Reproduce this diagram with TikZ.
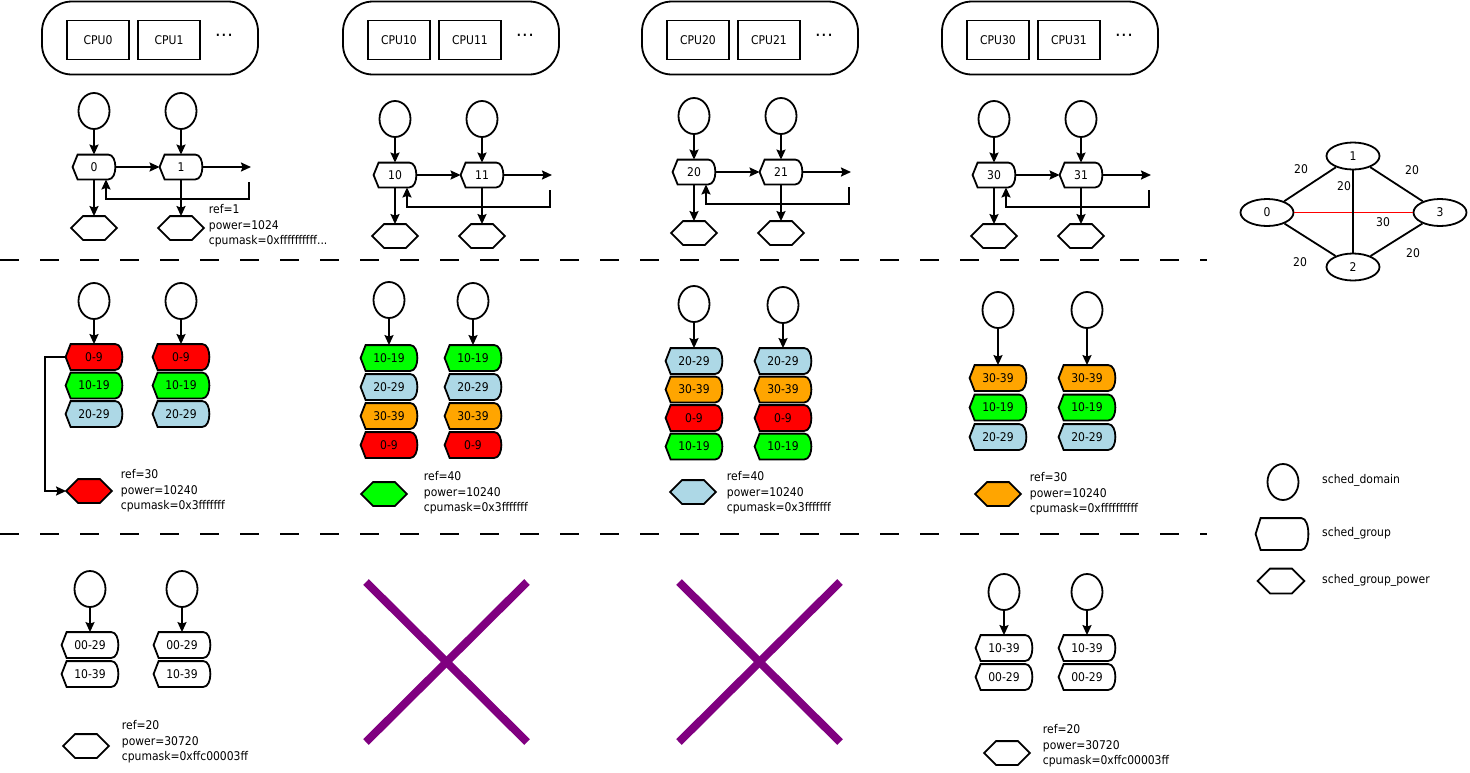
\documentclass[tikz,border=0pt]{standalone}
\usepackage{fontspec}
\setmainfont{DejaVu Sans}[FakeStretch=0.9]
\usetikzlibrary{positioning}
\usetikzlibrary{shapes.geometric}
\usetikzlibrary{arrows.meta}
\definecolor{grpred}{RGB}{255,0,0}
\definecolor{grpgreen}{RGB}{0,255,0}
\definecolor{grpblue}{RGB}{173,216,230}
\definecolor{grporange}{RGB}{255,165,0}
\definecolor{deadnode}{RGB}{128,0,128}

\makeatletter
\newdimen\sgxa \newdimen\sgxb \newdimen\sgya \newdimen\sgyb \newdimen\sgym \newdimen\sgt
\def\sgcorners{%
  \pgfextractx{\sgxa}{\southwest}\pgfextracty{\sgya}{\southwest}%
  \pgfextractx{\sgxb}{\northeast}\pgfextracty{\sgyb}{\northeast}%
  \sgym=.5\sgya \advance\sgym by .5\sgyb
  \sgt=\sgyb \advance\sgt by -\sgym}
% sched_group: pointed on the left, round on the right
\pgfdeclareshape{schedgroup}{%
  \inheritsavedanchors[from=rectangle]%
  \inheritanchorborder[from=rectangle]%
  \inheritanchor[from=rectangle]{center}%
  \inheritanchor[from=rectangle]{north}%
  \inheritanchor[from=rectangle]{south}%
  \inheritanchor[from=rectangle]{east}%
  \inheritanchor[from=rectangle]{west}%
  \backgroundpath{%
    \sgcorners
    \pgfpathmoveto{\pgfqpoint{\sgxa}{\sgym}}%
    \pgfpathlineto{\pgfqpoint{\dimexpr\sgxa+5pt\relax}{\sgyb}}%
    \pgfpathlineto{\pgfqpoint{\dimexpr\sgxb-7pt\relax}{\sgyb}}%
    \pgfpathcurveto{\pgfqpoint{\dimexpr\sgxb+2.3pt\relax}{\sgyb}}%
      {\pgfqpoint{\dimexpr\sgxb+2.3pt\relax}{\sgya}}%
      {\pgfqpoint{\dimexpr\sgxb-7pt\relax}{\sgya}}%
    \pgfpathlineto{\pgfqpoint{\dimexpr\sgxa+5pt\relax}{\sgya}}%
    \pgfpathclose
  }%
}
% sched_group_power: flat hexagon
\pgfdeclareshape{schedpower}{%
  \inheritsavedanchors[from=rectangle]%
  \inheritanchorborder[from=rectangle]%
  \inheritanchor[from=rectangle]{center}%
  \inheritanchor[from=rectangle]{north}%
  \inheritanchor[from=rectangle]{south}%
  \inheritanchor[from=rectangle]{east}%
  \inheritanchor[from=rectangle]{west}%
  \backgroundpath{%
    \sgcorners
    \pgfpathmoveto{\pgfqpoint{\sgxa}{\sgym}}%
    \pgfpathlineto{\pgfqpoint{\dimexpr\sgxa+\sgt\relax}{\sgyb}}%
    \pgfpathlineto{\pgfqpoint{\dimexpr\sgxb-\sgt\relax}{\sgyb}}%
    \pgfpathlineto{\pgfqpoint{\sgxb}{\sgym}}%
    \pgfpathlineto{\pgfqpoint{\dimexpr\sgxb-\sgt\relax}{\sgya}}%
    \pgfpathlineto{\pgfqpoint{\dimexpr\sgxa+\sgt\relax}{\sgya}}%
    \pgfpathclose
  }%
}
\makeatother

\begin{document}
\begin{tikzpicture}[x=1pt, y=-1pt, line width=1.8pt,
    font=\fontsize{12}{15.5}\selectfont,
    cluster/.style={draw, rounded corners=30pt, minimum width=216pt, minimum height=73pt},
    cpu/.style={draw, minimum width=62pt, minimum height=39pt, inner sep=0pt},
    dom/.style={draw, ellipse, minimum width=31pt, minimum height=36pt, inner sep=0pt},
    grp/.style={draw, shape=schedgroup, fill=white, minimum width=41pt, minimum height=23pt, inner sep=0pt},
    grpw/.style={grp, minimum width=55pt, minimum height=24pt},
    pwr/.style={draw, shape=schedpower, fill=white, minimum width=44pt, minimum height=22pt, inner sep=0pt},
    info/.style={anchor=west, align=left, inner sep=0pt},
    link/.style={-{Stealth[length=10pt, width=9pt, inset=1.5pt]}},
    vertex/.style={draw, ellipse, minimum width=53pt, minimum height=27pt, inner sep=0pt},
    weight/.style={inner sep=0pt},
    cut/.style={dash pattern=on 19pt off 21pt, line width=2pt},
    gone/.style={deadnode, line width=8pt}]
\useasboundingbox (0,0) rectangle (1470,772);

% level 1: cpus, domains and groups
\foreach \dx/\dy/\ca/\cb [count=\n] in {0/0/0/1, 301/8/10/11, 600/5/20/21, 900/8/30/31} {
    \node[cluster] (cl\n) at ({150+\dx},38) {};
    \node[cpu] (cpu\ca) at ({98+\dx},40) {CPU\ca};
    \node[cpu] (cpu\cb) at ({169+\dx},40) {CPU\cb};
    \node (more\n) at ({224+\dx},37) {\textbf{·\hspace{2pt}·\hspace{2pt}·}};
    \node[dom] (da\n) at ({94+\dx},{111+\dy}) {};
    \node[dom] (db\n) at ({181+\dx},{111+\dy}) {};
    \node[grp] (ga\n) at ({94+\dx},{167+\dy}) {\ca};
    \node[grp] (gb\n) at ({181+\dx},{167+\dy}) {\cb};
    \node[pwr] (pa\n) at ({94+\dx},{228+\dy}) {};
    \node[pwr] (pb\n) at ({181+\dx},{228+\dy}) {};
    \coordinate (end\n) at ({251+\dx},{167+\dy});
    \coordinate (ret\n) at ({249+\dx},{182+\dy});
    \draw[link] (da\n) -- (ga\n);
    \draw[link] (db\n) -- (gb\n);
    \draw[link] (ga\n) -- (gb\n);
    \draw[link] (gb\n) -- (end\n);
    \draw[link] (ret\n) -- ++(0,17) -| ([xshift=12pt]ga\n.south);
    \draw[link] (ga\n) -- (pa\n);
    \draw[link] (gb\n) -- (pb\n);
}
\node[info] (ref1) at (208,226) {ref=1\\power=1024\\cpumask=0xffffffffff...};

\draw[cut] (0,260) -- (1207,260);

% level 2
\node[dom] (m1da) at (94,301) {};
\node[dom] (m1db) at (181,301) {};
\foreach \txt/\col [count=\k] in {0-9/grpred, 10-19/grpgreen, 20-29/grpblue} {
    \node[grpw, fill=\col] (m1a\k) at (94,{357+28.5*(\k-1)}) {\txt};
    \node[grpw, fill=\col] (m1b\k) at (181,{357+28.5*(\k-1)}) {\txt};
}
\draw[link] (m1da) -- (m1a1);
\draw[link] (m1db) -- (m1b1);
\node[pwr, fill=grpred] (m1p) at (89,491) {};
\node[info] (m1i) at (120,491) {ref=30\\power=10240\\cpumask=0x3fffffff};
\draw[link] (m1a1.west) -- ++(-21,0) |- (m1p.west);

\node[dom] (m2da) at (389,300) {};
\node[dom] (m2db) at (473,301) {};
\foreach \txt/\col [count=\k] in {10-19/grpgreen, 20-29/grpblue, 30-39/grporange, 0-9/grpred} {
    \node[grpw, fill=\col] (m2a\k) at (389,{358+29*(\k-1)}) {\txt};
    \node[grpw, fill=\col] (m2b\k) at (473,{358+29*(\k-1)}) {\txt};
}
\draw[link] (m2da) -- (m2a1);
\draw[link] (m2db) -- (m2b1);
\node[pwr, fill=grpgreen] (m2p) at (384,494) {};
\node[info] (m2i) at (423,493) {ref=40\\power=10240\\cpumask=0x3fffffff};

\node[dom] (m3da) at (694,304) {};
\node[dom] (m3db) at (783,305) {};
\foreach \txt/\col [count=\k] in {20-29/grpblue, 30-39/grporange, 0-9/grpred, 10-19/grpgreen} {
    \node[grpw, fill=\col] (m3a\k) at (694,{361+28.5*(\k-1)}) {\txt};
    \node[grpw, fill=\col] (m3b\k) at (783,{361+28.5*(\k-1)}) {\txt};
}
\draw[link] (m3da) -- (m3a1);
\draw[link] (m3db) -- (m3b1);
\node[pwr, fill=grpblue] (m3p) at (693,492) {};
\node[info] (m3i) at (726,493) {ref=40\\power=10240\\cpumask=0x3fffffff};

\node[dom] (m4da) at (998,310) {};
\node[dom] (m4db) at (1087,310) {};
\foreach \txt/\col [count=\k] in {30-39/grporange, 10-19/grpgreen, 20-29/grpblue} {
    \node[grpw, fill=\col] (m4a\k) at (998,{378+29.5*(\k-1)}) {\txt};
    \node[grpw, fill=\col] (m4b\k) at (1087,{378+29.5*(\k-1)}) {\txt};
}
\draw[link] (m4da) -- (m4a1);
\draw[link] (m4db) -- (m4b1);
\node[pwr, fill=grporange] (m4p) at (998,494) {};
\node[info] (m4i) at (1029,494) {ref=30\\power=10240\\cpumask=0xffffffffff};

\draw[cut] (0,534) -- (1207,534);

% level 3
\node[dom] (b1da) at (90,589) {};
\node[dom] (b1db) at (182,589) {};
\foreach \txt [count=\k] in {00-29, 10-39} {
    \node[grpw] (b1a\k) at (90,{645+29*(\k-1)}) {\txt};
    \node[grpw] (b1b\k) at (182,{645+29*(\k-1)}) {\txt};
}
\draw[link] (b1da) -- (b1a1);
\draw[link] (b1db) -- (b1b1);
\node[pwr] (b1p) at (86,746) {};
\node[info] (b1i) at (121,742) {ref=20\\power=30720\\cpumask=0xffc00003ff};

\draw[gone] (366,582) -- (527,742);
\draw[gone] (527,582) -- (366,742);
\draw[gone] (679,582) -- (840,742);
\draw[gone] (840,582) -- (679,742);

\node[dom] (b4da) at (1004,592) {};
\node[dom] (b4db) at (1087,592) {};
\foreach \txt [count=\k] in {10-39, 00-29} {
    \node[grpw] (b4a\k) at (1004,{648+29*(\k-1)}) {\txt};
    \node[grpw] (b4b\k) at (1087,{648+29*(\k-1)}) {\txt};
}
\draw[link] (b4da) -- (b4a1);
\draw[link] (b4db) -- (b4b1);
\node[pwr] (b4p) at (1007,753) {};
\node[info] (b4i) at (1042,746) {ref=20\\power=30720\\cpumask=0xffc00003ff};

% numa distances
\node[vertex] (v0) at (1267,212.5) {0};
\node[vertex] (v1) at (1353,156) {1};
\node[vertex] (v2) at (1353,267) {2};
\node[vertex] (v3) at (1440,212.5) {3};
\draw[red] (v0) -- (v3);
\draw (v0) -- (v1);
\draw (v1) -- (v3);
\draw (v0) -- (v2);
\draw (v2) -- (v3);
\draw (v1) -- (v2);
\node[weight] (w01) at (1301,169) {20};
\node[weight] (w13) at (1412,170) {20};
\node[weight] (w12) at (1344,186) {20};
\node[weight] (w03) at (1383,222) {30};
\node[weight] (w02) at (1300,262) {20};
\node[weight] (w23) at (1413,253) {20};

% legend
\node[dom] (ldom) at (1283,482) {};
\node[grp, minimum width=51pt, minimum height=30pt] (lgrp) at (1282,534) {};
\node[pwr, minimum width=45pt, minimum height=23pt] (lpwr) at (1281,581) {};
\node[anchor=west] (ldomt) at (1318,480) {sched\_domain};
\node[anchor=west] (lgrpt) at (1318,533) {sched\_group};
\node[anchor=west] (lpwrt) at (1318,580) {sched\_group\_power};

\end{tikzpicture}
\end{document}
